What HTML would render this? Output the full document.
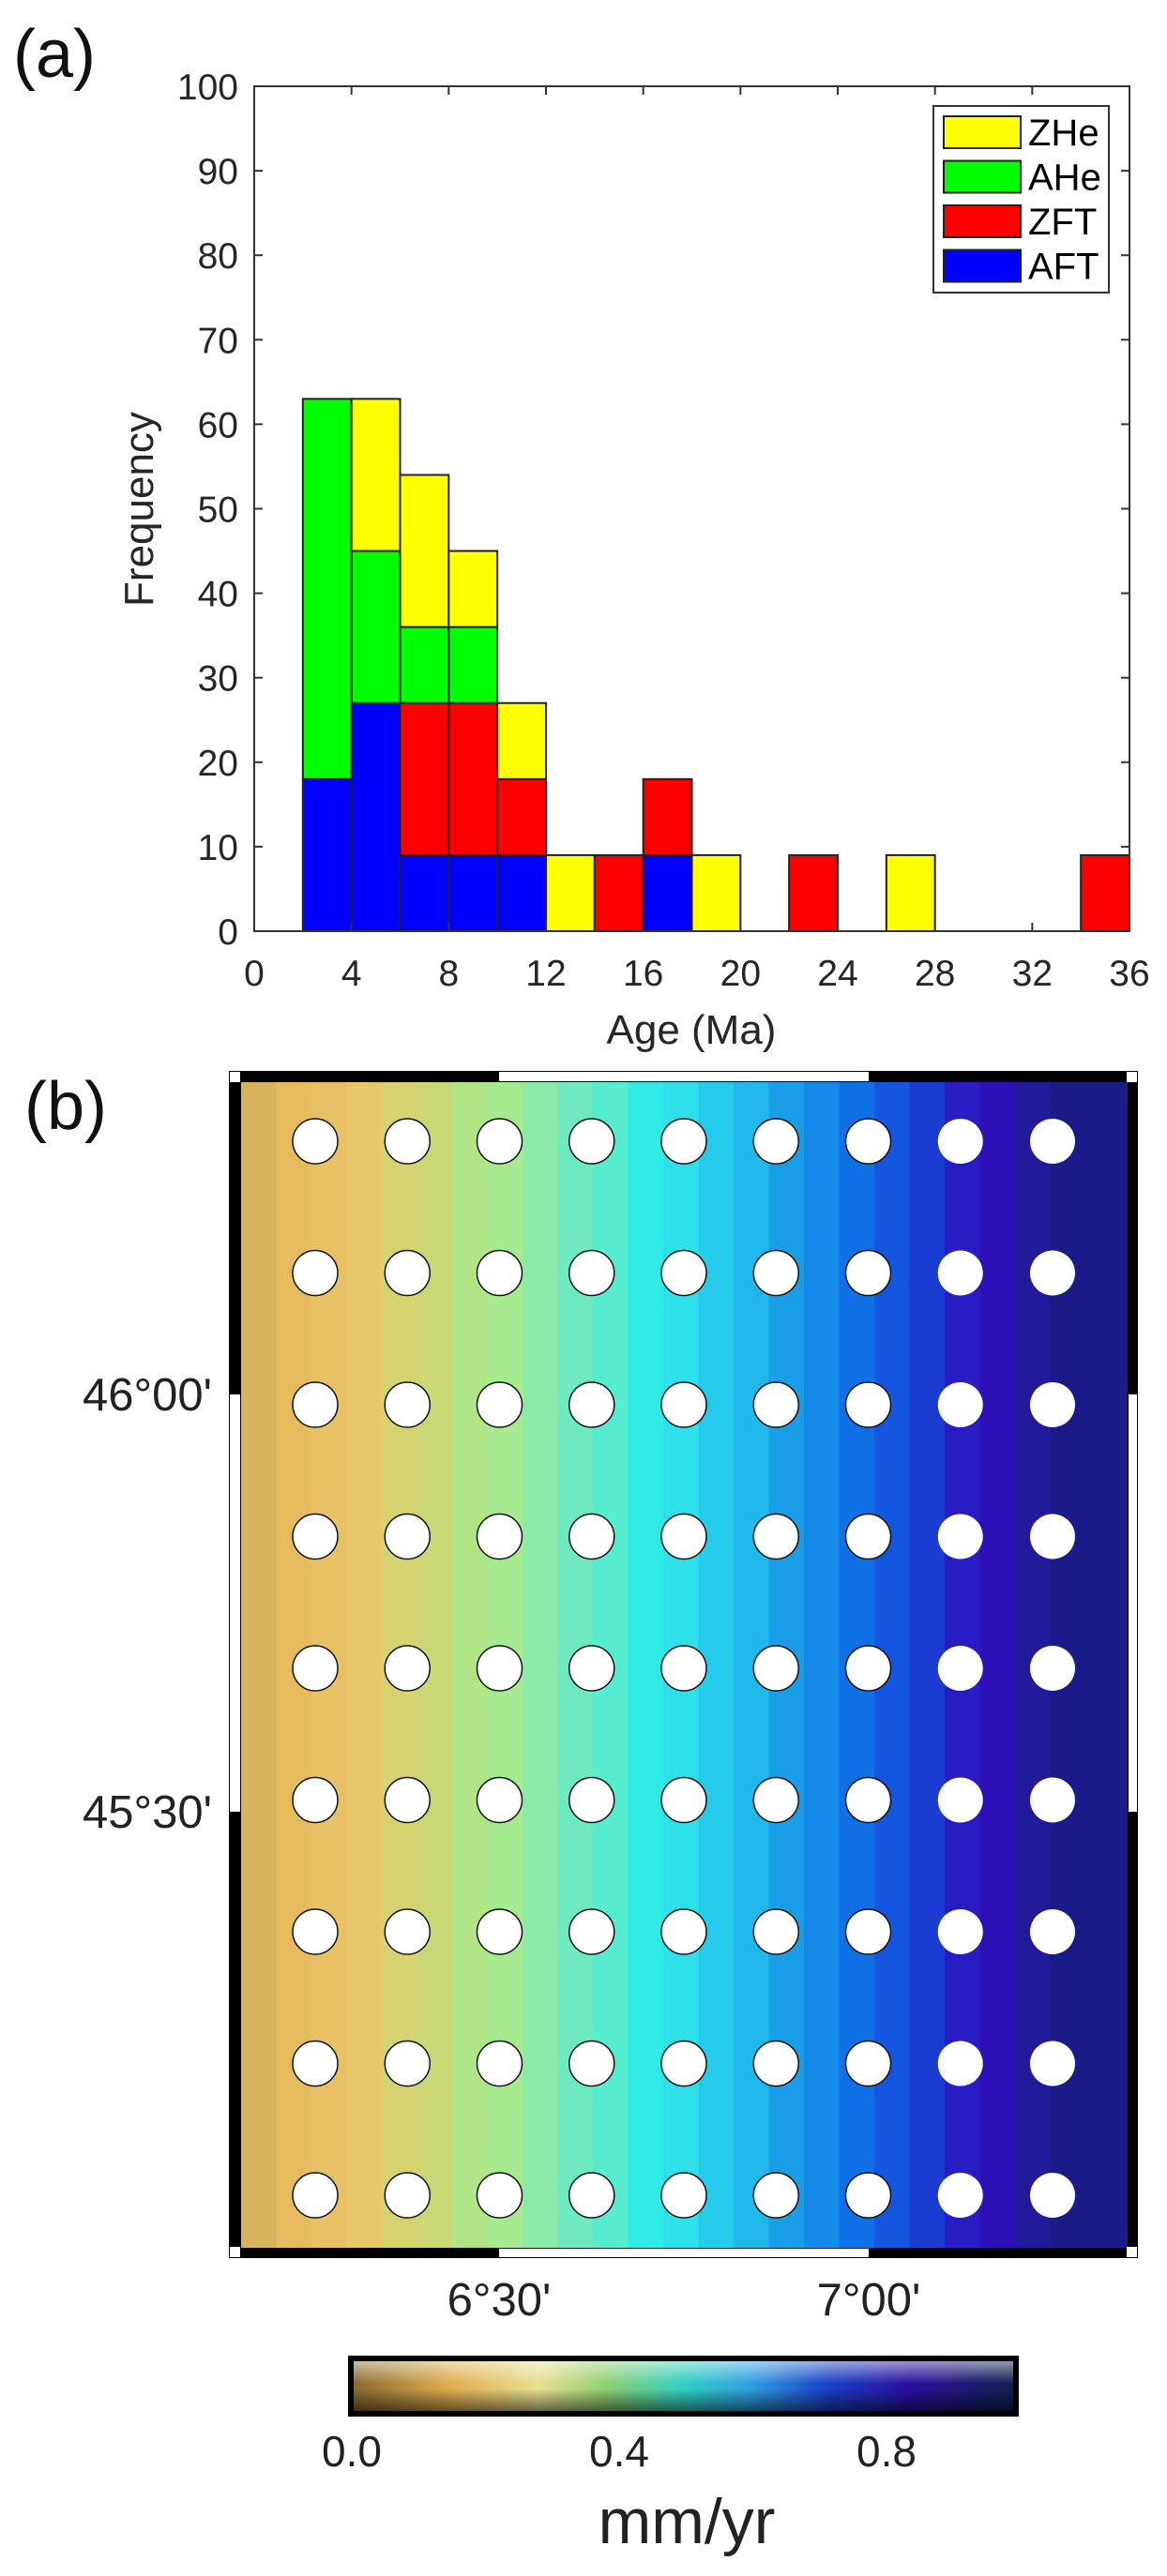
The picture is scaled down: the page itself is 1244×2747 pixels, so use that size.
<!DOCTYPE html>
<html><head><meta charset="utf-8">
<style>
html,body{margin:0;padding:0;background:#fff;}
svg{display:block;font-family:"Liberation Sans",Arial,sans-serif;}
</style></head>
<body>
<svg id="fig" width="1244" height="2747" viewBox="0 0 1244 2747" xmlns="http://www.w3.org/2000/svg">
<defs>
  <linearGradient id="cbH" x1="0" x2="1" y1="0" y2="0">
    <stop offset="0" stop-color="#8a6a30"/>
    <stop offset="0.15" stop-color="#e0b050"/>
    <stop offset="0.28" stop-color="#e8e090"/>
    <stop offset="0.38" stop-color="#90d070"/>
    <stop offset="0.5" stop-color="#30d0c0"/>
    <stop offset="0.6" stop-color="#30a0e0"/>
    <stop offset="0.72" stop-color="#1a40c8"/>
    <stop offset="0.84" stop-color="#2a10a0"/>
    <stop offset="1" stop-color="#102050"/>
  </linearGradient>
  <linearGradient id="cbV" x1="0" x2="0" y1="0" y2="1">
    <stop offset="0" stop-color="#fff" stop-opacity="0.55"/>
    <stop offset="0.45" stop-color="#fff" stop-opacity="0"/>
    <stop offset="0.55" stop-color="#000" stop-opacity="0"/>
    <stop offset="1" stop-color="#000" stop-opacity="0.55"/>
  </linearGradient>
</defs>
<g id="panelA"></g>
<g id="panelB"></g>
</svg>
<script>
// ---- Histogram data ----
const binStarts = [2,4,6,8,10,12,14,16,18,20,22,24,26,28,30,32,34];
const aftVals  = [18,27,9,9,9,0,0,9,0,0,0,0,0,0,0,0,0];
const zftVals  = [0,0,18,18,9,0,9,9,0,0,9,0,0,0,0,0,9];
const aheVals  = [45,18,9,9,0,0,0,0,0,0,0,0,0,0,0,0,0];
const zheVals  = [0,18,18,9,9,9,0,0,9,0,0,0,9,0,0,0,0];
const seriesNames = ["AFT","ZFT","AHe","ZHe"];
const seriesColors = ["#0000ff","#ff0000","#00ff00","#ffff00"];
const xTicks = [0,4,8,12,16,20,24,28,32,36];
const yTicks = [0,10,20,30,40,50,60,70,80,90,100];
const legendOrder = ["ZHe","AHe","ZFT","AFT"];
const binWidth = 2;

// ---- Map data ----
const mapLonTicks = ["6\u00b030'","7\u00b000'"];
const mapLatTicks = ["46\u00b000'","45\u00b030'"];
const bandColors = ["#d6b45e","#e6bb5e","#e8c165","#e6c86a","#d6d270","#cbd775","#b0e585","#a5ea8f","#8ceaa8","#6ee9c0","#55ecd0","#30eae6","#2de0ea","#25cbea","#20b8ea","#1a9ee8","#158ae8","#1070e6","#1556e0","#1a3cd0","#2a1cc4","#2e10b8","#221a9a","#1a1a88"];
const gridCols = 9, gridRows = 9;
const cbTicks = ["0.0","0.4","0.8"];
const cbTickVals = [0,0.4,0.8];

const NS="http://www.w3.org/2000/svg";
function mk(tag, attrs, parent){const e=document.createElementNS(NS,tag);for(const k in attrs)e.setAttribute(k,attrs[k]);parent.appendChild(e);return e;}

// ===== Panel A =====
const A=document.getElementById('panelA');
const L=271,R=1204,T=92,B=993;
const xs=v=>L+(v-0)/36*(R-L);
const ys=v=>B-(v/100)*(B-T);

let t=mk('text',{x:14,y:82,'font-size':72,fill:'#111'},A);t.textContent='(a)';



const seriesArr=[aftVals,zftVals,aheVals,zheVals];
for(let i=0;i<binStarts.length;i++){
  let base=0;
  for(let s=0;s<seriesArr.length;s++){
    const v=seriesArr[s][i];
    if(v>0){
      const r=mk('rect',{x:xs(binStarts[i]),y:ys(base+v),width:xs(binStarts[i]+binWidth)-xs(binStarts[i]),height:ys(base)-ys(base+v),fill:seriesColors[s],stroke:'#222','stroke-width':2},A);
      
      
    }
    base+=v;
  }
}
const box=mk('rect',{x:L,y:T,width:R-L,height:B-T,fill:'none',stroke:'#333','stroke-width':2},A);


xTicks.forEach(v=>{
  const x=xs(v);
  mk('line',{x1:x,y1:B,x2:x,y2:B-9,stroke:'#333','stroke-width':2},A);
  mk('line',{x1:x,y1:T,x2:x,y2:T+9,stroke:'#333','stroke-width':2},A);
  const tx=mk('text',{x:x,y:1051,'font-size':39,fill:'#262626','text-anchor':'middle'},A);
  tx.textContent=v;
  
  
});
yTicks.forEach(v=>{
  const y=ys(v);
  mk('line',{x1:L,y1:y,x2:L+9,y2:y,stroke:'#333','stroke-width':2},A);
  mk('line',{x1:R,y1:y,x2:R-9,y2:y,stroke:'#333','stroke-width':2},A);
  const tx=mk('text',{x:254,y:y+14,'font-size':39,fill:'#262626','text-anchor':'end'},A);
  tx.textContent=v;
  
  
});
t=mk('text',{x:737,y:1113,'font-size':44,fill:'#262626','text-anchor':'middle'},A);t.textContent='Age (Ma)';


t=mk('text',{x:163,y:543,'font-size':44,fill:'#262626','text-anchor':'middle',transform:'rotate(-90 163 543)'},A);t.textContent='Frequency';


const lg=mk('g',{},A);


mk('rect',{x:995,y:113,width:187,height:199,fill:'#fff',stroke:'#333','stroke-width':2},lg);
legendOrder.forEach((n,i)=>{
  const si=seriesNames.indexOf(n);
  const y=124+i*47.5;
  const sw=mk('rect',{x:1006,y:y,width:82,height:34,fill:seriesColors[si],stroke:'#222','stroke-width':2},lg);
  
  
  const tx=mk('text',{x:1096,y:y+31,'font-size':40,fill:'#000'},lg);
  tx.textContent=n;
  
  
});

// ===== Panel B =====
const P=document.getElementById('panelB');
t=mk('text',{x:26,y:1204,'font-size':72,fill:'#111'},P);t.textContent='(b)';


const mL=257,mR=1202,mT=1154,mB=2397,oL=244,oR=1213,oT=1142,oB=2408;
const bw=37.5;
bandColors.forEach((c,i)=>{
  const x=mL+i*bw;
  const w=(i===bandColors.length-1)?(mR-x):bw+1;
  const r=mk('rect',{x:x,y:mT,width:w,height:mB-mT,fill:c},P);
  
  
});
const fr=mk('g',{},P);


mk('rect',{x:oL,y:oT,width:oR-oL,height:mT-oT,fill:'#000'},fr);
mk('rect',{x:oL,y:mB,width:oR-oL,height:oB-mB,fill:'#000'},fr);
mk('rect',{x:oL,y:oT,width:mL-oL,height:oB-oT,fill:'#000'},fr);
mk('rect',{x:mR,y:oT,width:oR-mR,height:oB-oT,fill:'#000'},fr);
const wsx=[532,926], wsy=[1487,1932];
[[wsx[0],oT+1,wsx[1]-wsx[0],mT-oT-2],[wsx[0],mB+1,wsx[1]-wsx[0],oB-mB-2],[oL+1,wsy[0],mL-oL-2,wsy[1]-wsy[0]],[mR+1,wsy[0],oR-mR-2,wsy[1]-wsy[0]],
 [oL+1,oT+1,11,11],[oR-12,oT+1,11,11],[oL+1,oB-12,11,11],[oR-12,oB-12,11,11]].forEach(a=>{
  mk('rect',{x:a[0],y:a[1],width:a[2],height:a[3],fill:'#fff'},fr);
});
for(let r=0;r<gridRows;r++){
  for(let c=0;c<gridCols;c++){
    const ci=mk('circle',{cx:336+c*98.25,cy:1217+r*140.5,r:24,fill:'#fff',stroke:c<7?'#111':'none','stroke-width':1.5},P);
    
    
  }
}
mapLonTicks.forEach((s,i)=>{
  const tx=mk('text',{x:wsx[i],y:2469,'font-size':49,fill:'#222','text-anchor':'middle'},P);
  tx.textContent=s;
  
  
});
mapLatTicks.forEach((s,i)=>{
  const tx=mk('text',{x:226,y:wsy[i]+17,'font-size':49,fill:'#222','text-anchor':'end'},P);
  tx.textContent=s;
  
  
});
const cb=mk('g',{},P);


mk('rect',{x:371,y:2512,width:715,height:65,fill:'#000'},cb);
mk('rect',{x:377,y:2518,width:703,height:53,fill:'url(#cbH)'},cb);
mk('rect',{x:377,y:2518,width:703,height:53,fill:'url(#cbV)'},cb);
const cbx=v=>375+v/0.8*(945-375);
cbTicks.forEach((s,i)=>{
  const tx=mk('text',{x:cbx(cbTickVals[i]),y:2630,'font-size':46,fill:'#222','text-anchor':'middle'},P);
  tx.textContent=s;
  
  
});
t=mk('text',{x:732,y:2712,'font-size':68,fill:'#222','text-anchor':'middle'},P);t.textContent='mm/yr';


</script>
</body></html>
